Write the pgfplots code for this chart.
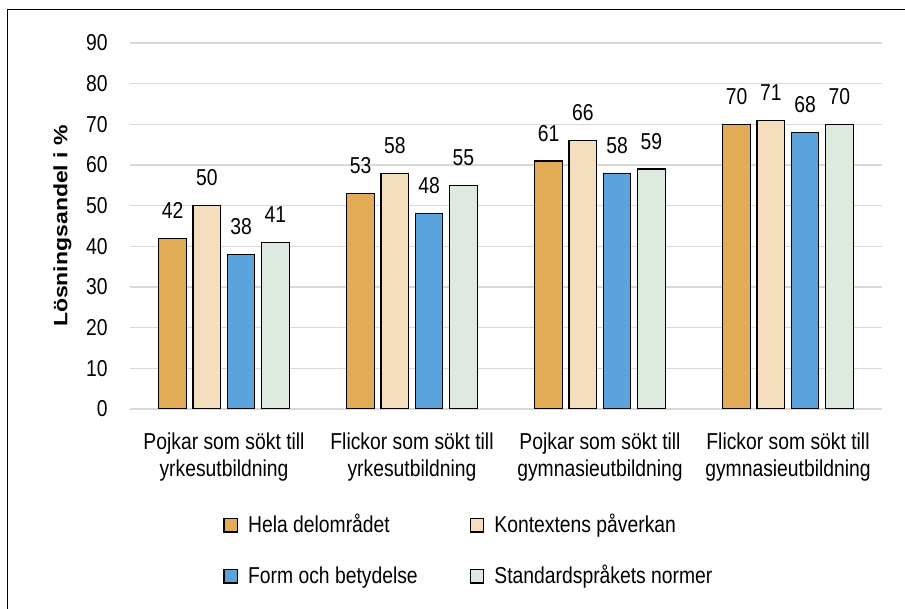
\documentclass[border=0pt]{standalone}
\usepackage{fontspec}
\setmainfont{Liberation Sans}[FakeStretch=0.84]
\newfontfamily\plainfont{Liberation Sans}
\usepackage{graphicx}
\usepackage{pgfplots}
\pgfplotsset{compat=1.18}
\definecolor{cA}{HTML}{E2AC56}
\definecolor{cB}{HTML}{F5DEBD}
\definecolor{cC}{HTML}{5BA3DC}
\definecolor{cD}{HTML}{DEEADF}
\definecolor{gridc}{HTML}{D9D9D9}
\pgfplotsset{
  sqlegend/.style={legend image code/.code={\draw[##1, draw=black, line width=0.6pt] (0pt,-2.8pt) rectangle (6.75pt,3.95pt);}},
  mybar/.style={draw=black, line width=0.6pt, sqlegend},
}
\begin{document}
\begin{tikzpicture}[x=1pt,y=1pt,font=\fontsize{11.5}{13.5}\selectfont]
\useasboundingbox (-65,-100) rectangle (387.5,204.5);
\draw[line width=0.65pt] (-61.25,-100) -- (-61.25,199.75) -- (387.5,199.75);
\begin{axis}[
  at={(0,0)}, anchor=south west,
  scale only axis, width=376pt, height=183pt,
  ybar=3.4pt, bar width=13.75pt,
  xmin=-0.5, xmax=3.5, ymin=0, ymax=90,
  ytick={0,10,...,90},
  xtick={0,1,2,3},
  xticklabels={{Pojkar som sökt till\\yrkesutbildning},{Flickor som sökt till\\yrkesutbildning},{Pojkar som sökt till\\gymnasieutbildning},{Flickor som sökt till\\gymnasieutbildning}},
  xticklabel style={align=center, anchor=north, inner sep=0pt, yshift=-11.5pt},
  yticklabel style={anchor=east, inner sep=0pt, xshift=-11pt},
  /pgf/number format/assume math mode=true,
  major tick length=0pt,
  ymajorgrids, grid style={gridc, line width=0.7pt},
  axis line style={draw=none},
  nodes near coords,
  every node near coord/.append style={anchor=south, inner sep=0pt, yshift=9.5pt, text=black},
  ylabel={\scalebox{1}[0.84]{\plainfont\bfseries Lösningsandel i \%}},
  every axis y label/.style={at={(axis description cs:0,0.5)}, xshift=-33.75pt, anchor=center, rotate=90},
  legend columns=2,
  legend cell align=left,
  legend style={draw=none, fill=none, at={(axis description cs:0,0)}, anchor=north west,
    xshift=46.5pt, yshift=-53pt, inner sep=0pt, row sep=14.5pt,
    nodes={inner sep=0pt, text height=8.5pt, text depth=2.5pt},
    /tikz/every even column/.append style={column sep=26pt},
    /tikz/every odd column/.append style={column sep=5pt}},
]
\addplot[mybar, fill=cA] coordinates {(0,42) (1,53) (2,61) (3,70)};
\addlegendentry{Hela delområdet}
\addplot[mybar, fill=cB] coordinates {(0,50) (1,58) (2,66) (3,71)};
\addlegendentry{Kontextens påverkan}
\addplot[mybar, fill=cC] coordinates {(0,38) (1,48) (2,58) (3,68)};
\addlegendentry{Form och betydelse}
\addplot[mybar, fill=cD] coordinates {(0,41) (1,55) (2,59) (3,70)};
\addlegendentry{Standardspråkets normer}
\end{axis}
\end{tikzpicture}
\end{document}
